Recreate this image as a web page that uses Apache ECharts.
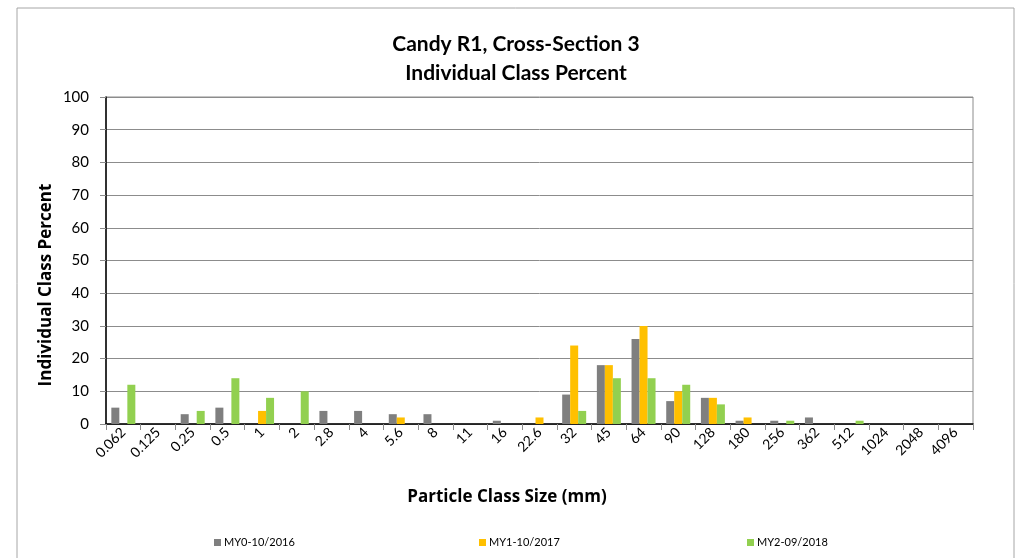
<!DOCTYPE html>
<html>
<head>
<meta charset="utf-8">
<script src="https://cdn.jsdelivr.net/npm/echarts@6/dist/echarts.min.js"></script>
<style>
  html, body { margin: 0; padding: 0; background: #fff; }
  #chart { width: 1021px; height: 558px; }
</style>
</head>
<body>
<div id="chart"></div>
<script>
// particle class sizes (mm)
var classSizes = ['0.062', '0.125', '0.25', '0.5', '1', '2', '2.8', '4', '5.6', '8', '11', '16', '22.6',
  '32', '45', '64', '90', '128', '180', '256', '362', '512', '1024', '2048', '4096'];
// individual class percent per survey
var my0 = [5, 0, 3, 5, 0, 0, 4, 4, 3, 3, 0, 1, 0, 9, 18, 26, 7, 8, 1, 1, 2, 0, 0, 0, 0];
var my1 = [0, 0, 0, 0, 4, 0, 0, 0, 2, 0, 0, 0, 2, 24, 18, 30, 10, 8, 2, 0, 0, 0, 0, 0, 0];
var my2 = [12, 0, 4, 14, 8, 10, 0, 0, 0, 0, 0, 0, 0, 4, 14, 14, 12, 6, 0, 1, 0, 1, 0, 0, 0];
var seriesNames = ['MY0-10/2016', 'MY1-10/2017', 'MY2-09/2018'];
var colors = ['#7f7f7f', '#ffc000', '#92d050'];

var font = 'Lato, "Open Sans", sans-serif';
var boldFont = '"Open Sans", Lato, sans-serif';
var myChart = echarts.init(document.getElementById('chart'));

function legendAt(i, x) {
  return {
    data: [seriesNames[i]],
    left: x,
    top: 532,
    icon: 'rect',
    itemWidth: 7,
    itemHeight: 7,
    itemGap: 3,
    textStyle: { fontFamily: font, fontSize: 11, color: '#000', padding: [0, 0, 0, -2] }
  };
}

var option = {
  color: colors,
  animation: false,
  title: {
    text: 'Candy R1, Cross-Section 3\nIndividual Class Percent',
    left: 511,
    top: 25,
    textAlign: 'center',
    textStyle: { fontFamily: font, fontSize: 21, fontWeight: 'bold', color: '#000', lineHeight: 29 }
  },
  graphic: [
    {
      type: 'rect',
      shape: { x: 17, y: 8, width: 997, height: 560 },
      style: { fill: 'none', stroke: '#a6a6a6', lineWidth: 1 },
      silent: true
    },
    // axis titles sit centred on the chart, not on the plot area
    {
      type: 'text',
      x: 507, y: 497,
      style: { text: 'Particle Class Size (mm)', font: 'bold 17px "Open Sans", sans-serif', fill: '#000', align: 'center', verticalAlign: 'middle' }
    },
    {
      type: 'text',
      x: 46, y: 285,
      rotation: Math.PI / 2,
      style: { text: 'Individual Class Percent', font: 'bold 17px "Open Sans", sans-serif', fill: '#000', align: 'center', verticalAlign: 'middle' }
    }
  ],
  legend: [legendAt(0, 209), legendAt(1, 474), legendAt(2, 742)],
  grid: {
    left: 106,
    right: 48,
    top: 97,
    bottom: 134,
    show: true,
    borderColor: '#8c8c8c',
    borderWidth: 1
  },
  xAxis: {
    type: 'category',
    data: classSizes,
    axisLine: { lineStyle: { color: '#000', width: 1.5 } },
    axisTick: { show: true, length: 6, lineStyle: { color: '#8c8c8c' } },
    axisLabel: { rotate: 45, fontFamily: font, fontSize: 14, color: '#000', margin: 6, interval: 0 },
    splitLine: { show: false }
  },
  yAxis: {
    type: 'value',
    min: 0,
    max: 100,
    interval: 10,
    axisLine: { show: true, lineStyle: { color: '#000', width: 1.5 } },
    axisTick: { show: true, length: 6, lineStyle: { color: '#8c8c8c' } },
    axisLabel: { fontFamily: font, fontSize: 15, color: '#000', margin: 17 },
    splitLine: { lineStyle: { color: '#8c8c8c', width: 1 } }
  },
  series: [
    { name: seriesNames[0], type: 'bar', data: my0, barWidth: 8, barGap: '0%' },
    { name: seriesNames[1], type: 'bar', data: my1, barWidth: 8, barGap: '0%' },
    { name: seriesNames[2], type: 'bar', data: my2, barWidth: 8, barGap: '0%' }
  ]
};
myChart.setOption(option);
</script>
</body>
</html>
